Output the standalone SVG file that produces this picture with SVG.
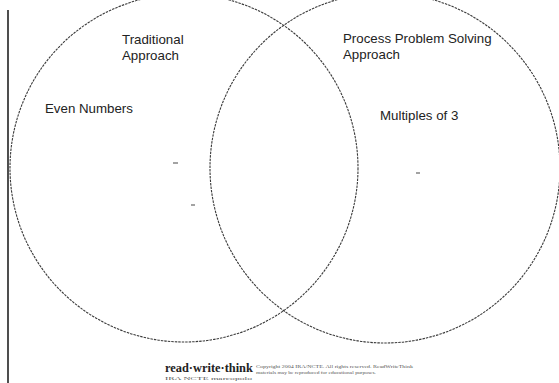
<svg xmlns="http://www.w3.org/2000/svg" width="559" height="383" viewBox="0 0 559 383">
<style>
.circ{fill:none;stroke:#3a3a3a;stroke-width:1.1;stroke-dasharray:2.5 1}
.lbl{font-family:"Liberation Sans",Arial,sans-serif;font-size:13.3px;fill:#222}
.mark{stroke:#666;stroke-width:1.2}
.logo{font-family:"Liberation Serif","Times New Roman",serif;font-weight:bold;fill:#222}
.tiny{font-family:"Liberation Serif",serif;font-size:4.4px;fill:#555}
</style>
<rect width="559" height="383" fill="#fff"/>
<line x1="8" y1="10" x2="8" y2="383" stroke="#222" stroke-width="1.6"/>
<g id="connectors"></g>
<g id="traditional">
<circle class="circ" cx="184" cy="168" r="174"/>
<text class="lbl" x="122" y="44">Traditional</text>
<text class="lbl" x="122" y="60">Approach</text>
<text class="lbl" x="45" y="113">Even Numbers</text>
</g>
<g id="process">
<circle class="circ" cx="385" cy="168" r="175"/>
<text class="lbl" x="343" y="43">Process Problem Solving</text>
<text class="lbl" x="343" y="59">Approach</text>
<text class="lbl" x="380" y="120">Multiples of 3</text>
</g>
<g id="marks">
<line class="mark" x1="173" y1="163" x2="178" y2="163"/>
<line class="mark" x1="191" y1="205" x2="195" y2="205"/>
<line class="mark" x1="416" y1="173" x2="420" y2="173"/>
</g>
<g id="footer">
<text class="logo" x="165" y="372" font-size="12.4">read·write·think</text>
<text class="tiny" x="165" y="380" textLength="87" lengthAdjust="spacingAndGlyphs">IRA      NCTE     marcopolo</text>
<text class="tiny" x="256" y="367.5" textLength="157" lengthAdjust="spacingAndGlyphs">Copyright 2004 IRA/NCTE. All rights reserved. ReadWriteThink</text>
<text class="tiny" x="256" y="373.8" textLength="120" lengthAdjust="spacingAndGlyphs">materials may be reproduced for educational purposes.</text>
</g>
</svg>
